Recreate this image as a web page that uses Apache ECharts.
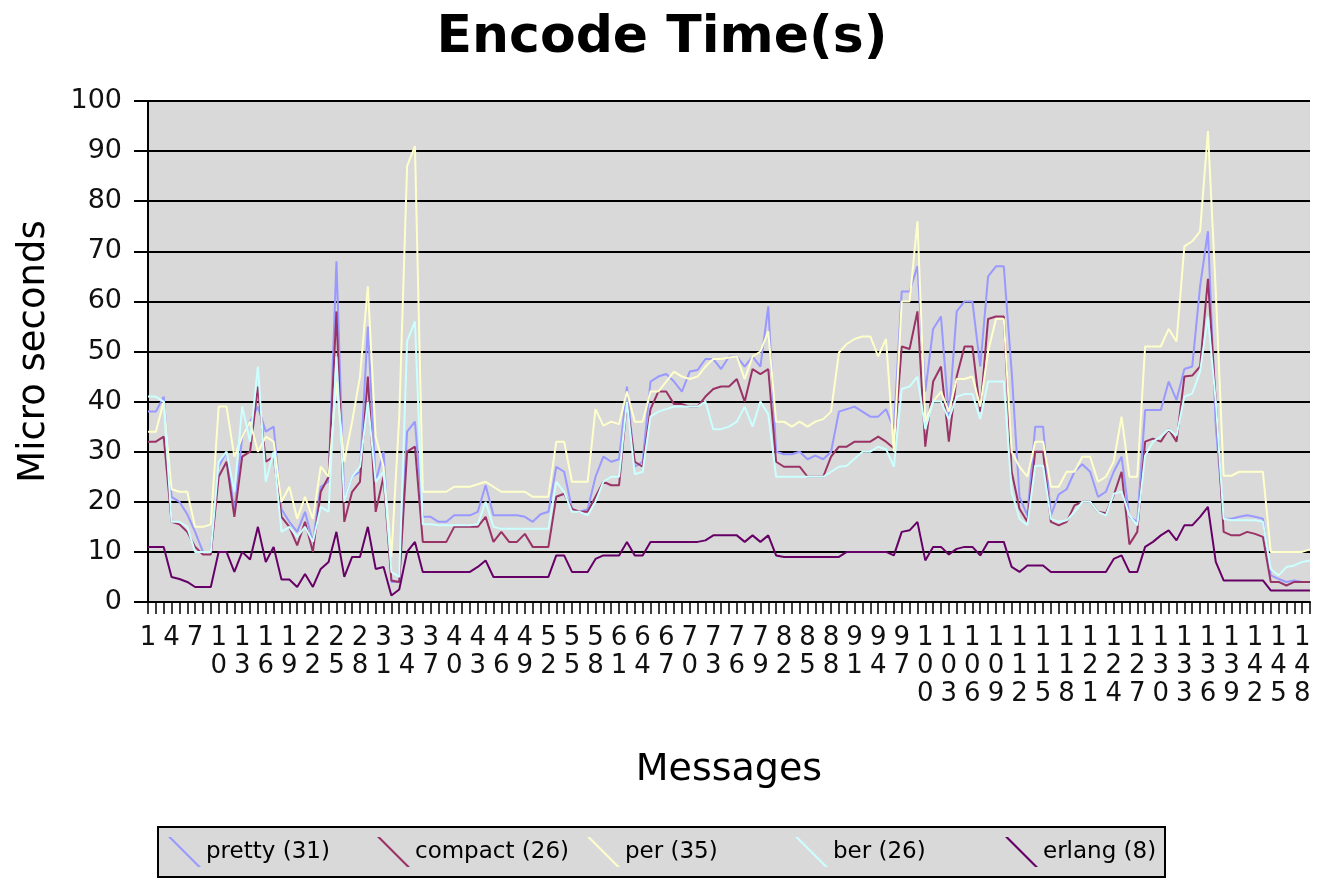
<!DOCTYPE html>
<html>
<head>
<meta charset="utf-8">
<script src="https://cdn.jsdelivr.net/npm/echarts@6/dist/echarts.min.js"></script>
<style>
html,body{margin:0;padding:0;background:#fff;}
#chart{width:1324px;height:880px;}
</style>
</head>
<body>
<div id="chart"></div>
<script>
const categories = [
1,2,3,4,5,6,7,8,9,10,11,12,13,14,15,16,17,18,19,20,
21,22,23,24,25,26,27,28,29,30,31,32,33,34,35,36,37,38,39,40,
41,42,43,44,45,46,47,48,49,50,51,52,53,54,55,56,57,58,59,60,
61,62,63,64,65,66,67,68,69,70,71,72,73,74,75,76,77,78,79,80,
81,82,83,84,85,86,87,88,89,90,91,92,93,94,95,96,97,98,99,100,
101,102,103,104,105,106,107,108,109,110,111,112,113,114,115,116,117,118,119,120,
121,122,123,124,125,126,127,128,129,130,131,132,133,134,135,136,137,138,139,140,
141,142,143,144,145,146,147,148,149
];

const seriesNames = ['pretty (31)', 'compact (26)', 'per (35)', 'ber (26)', 'erlang (8)'];

const pretty = [
38,38,41,21,20,17.5,14,10,10,27,
30,18,33,36,39,34,35,18.5,16,14,
18,12,23,24,68,20,25,26,55,24,
30,4,4,34,36,17,17,16,16,17.3,
17.3,17.3,18,23.3,17.3,17.3,17.3,17.3,17,16,
17.5,18,27,26,18.6,18,18.5,25,29,28,
28.5,43,27,28,44,45,45.5,44,42,46,
46.3,48.5,48.5,46.5,49,49,47,49,47,59,
30,29.5,29.5,30,28.5,29.2,28.5,30,38,38.5,
39,38,37,37,38.5,34.5,62,62,67,42,
54.5,57,37,58,60,60,47,65,67,67,
46,21,17.3,35,35,17.3,21.5,22.5,26,27.5,
26,21,22,26,29,17,16,38.3,38.3,38.3,
44,40.3,46.5,47,63,74,35,16.6,16.6,17,
17.3,17,16.6,5.3,4.6,4,4.3,4,4
];

const compact = [
32,32,33,16,15.5,14,11,9.5,9.5,25,
28,17,29,30,43,28,29,17,15,11.3,
16,10,22,25,58,16,22,24,45,18,
25,4.3,4,30,31,12,12,12,12,15,
15,15,15,17,12,14,12,12,13.6,11,
11,11,21,21.6,18.6,18,18,21,24,23.3,
23.3,40,28,27,38.5,42,42,39.5,39.5,39,
39,41,42.5,43,43,44.5,40,46.5,45.5,46.5,
28,27,27,27,25,25,25,29,31,31,
32,32,32,33,32,30.7,51,50.5,58,31,
44,47,32,45,51,51,38,56.5,57,57,
26,18.6,16,30,30,16,15.3,16,19.3,20,
20,18,17.7,21.3,26,11.5,14,32,32.6,32,
34.5,32,45,45.2,47,64.5,40,14,13.3,13.3,
14,13.6,13,4,4,3.3,4,4,4
];

const per = [
34,34,40,22.5,22,22,15,15,15.5,39,
39,29,33,36,30,33,32,20,23,16.6,
21,16.6,27,25,44,28,36,45,63,33,
27,9,37,87,91,22,22,22,22,23,
23,23,23.5,24,23,22,22,22,22,21,
21,21,32,32,24,24,24,38.5,35.2,36,
35.5,42,36,36,42,42,44,46,45,44.5,
45,47,48.5,48.5,48.8,49,44.5,49,50,54,
36,36,35,36,35,36,36.5,38,49.8,51.5,
52.5,53,53,49,52.5,30,60,60,76,36,
40,42,38,44.5,44.5,45,39,50,56.5,56.5,
30,27,25,32,32,23,23,26,26,29,
29,24,25,28,37,25,25,51,51,51,
54.5,52,71,72,74,94,62,25.2,25.2,26,
26,26,26,10,10,10,10,10,10.5
];

const ber = [
41,41,40,16,16,15,10,10,10,28,
30,22,39,32,47,24,30,14,15,13,
15,12,19,18,49,20,25,27,40,24,
26,6,5,52,56,15.5,15.5,15.3,15.3,15.3,
15.3,15.3,15.5,20,15,14.6,14.6,14.6,14.6,14.6,
14.6,14.6,24,22,18,18,17.3,20,24,25,
25,40,25.5,26,37,38,38.5,39,39,39,
39,40,34.5,34.5,35,36,39,35,40,37.5,
25,25,25,25,25,25,25,26,27,27.2,
28.6,30,30,31,30.5,27,42.5,43,45,34.5,
40,40,36.5,41,41.5,41.5,36.5,44,44,44,
22,16.6,15.3,27.2,27.2,16.6,16,16.3,18,20,
20,18,17.3,21.6,22,17.3,15.3,29.2,32,33,
34.5,33.2,41,41.6,46,57,40,16.6,16.3,16.3,
16.3,16.3,16,6.6,5.3,7,7.3,8,8.3
];

const erlang = [
11,11,11,5,4.6,4,3,3,3,10,
10,6,10,8.5,15,8,11,4.5,4.5,3,
5.6,3,6.6,8,14,5,9,9,15,6.6,
7,1.3,2.5,10,12,6,6,6,6,6,
6,6,7,8.3,5,5,5,5,5,5,
5,5,9.3,9.3,6,6,6,8.6,9.3,9.3,
9.3,12,9.3,9.3,12,12,12,12,12,12,
12,12.3,13.3,13.3,13.3,13.3,12,13.3,12,13.3,
9.3,9,9,9,9,9,9,9,9,10,
10,10,10,10,10,9.3,14,14.3,16,8.3,
11,11,9.5,10.6,11,11,9.3,12,12,12,
7,6,7.3,7.3,7.3,6,6,6,6,6,
6,6,6,8.6,9.3,6,6,11,12,13.3,
14.3,12.3,15.3,15.3,17,19,8,4.3,4.3,4.3,
4.3,4.3,4.3,2.3,2.3,2.3,2.3,2.3,2.3
];

const yTicks = { min: 0, max: 100, interval: 10 };
const colors = ['#9999ff', '#993366', '#ffffcc', '#ccffff', '#660066'];
const seriesData = [pretty, compact, per, ber, erlang];

const FONT = 'DejaVu Sans';
const chart = echarts.init(document.getElementById('chart'), null, { renderer: 'canvas' });

const legendLefts = [163, 372, 582, 790, 1000];
const legendIcon = 'path://M0,0 L3,0 L33,30 L30,30 Z';

const option = {
  animation: false,
  backgroundColor: '#ffffff',
  title: {
    text: 'Encode Time(s)',
    left: 'center',
    top: 7,
    textStyle: { fontFamily: FONT, fontSize: 52, fontWeight: 'bold', color: '#000' }
  },
  graphic: [{
    type: 'rect',
    z: 0,
    shape: { x: 158, y: 827, width: 1007, height: 50 },
    style: { fill: '#d9d9d9', stroke: '#000', lineWidth: 2 }
  }],
  legend: seriesNames.map((n, i) => ({
    data: [n],
    left: legendLefts[i],
    top: 832,
    z: 10,
    itemWidth: 33,
    itemHeight: 30,
    icon: legendIcon,
    itemStyle: { color: colors[i] },
    textStyle: { fontFamily: FONT, fontSize: 23, color: '#000' }
  })),
  grid: { left: 148, right: 14, top: 101, bottom: 278, containLabel: false,
          show: true, backgroundColor: '#d9d9d9', borderWidth: 0 },
  xAxis: {
    type: 'category',
    data: categories,
    boundaryGap: false,
    name: 'Messages',
    nameLocation: 'middle',
    nameGap: 149,
    nameTextStyle: { fontFamily: FONT, fontSize: 38, color: '#000' },
    axisLine: { lineStyle: { color: '#000', width: 2 } },
    axisTick: { show: true, interval: 0, length: 12, lineStyle: { color: '#000', width: 1.5 } },
    axisLabel: {
      interval: 2,
      margin: 22,
      fontFamily: FONT,
      fontSize: 26,
      lineHeight: 28,
      color: '#111',
      formatter: v => String(v).split('').join('\n')
    },
    splitLine: { show: false }
  },
  yAxis: {
    type: 'value',
    min: yTicks.min,
    max: yTicks.max,
    interval: yTicks.interval,
    name: 'Micro seconds',
    nameLocation: 'middle',
    nameGap: 95,
    nameTextStyle: { fontFamily: FONT, fontSize: 37, color: '#000' },
    axisLine: { show: true, lineStyle: { color: '#000', width: 2 } },
    axisTick: { show: true, length: 14, lineStyle: { color: '#000', width: 2 } },
    axisLabel: { margin: 26, fontFamily: FONT, fontSize: 27, color: '#111' },
    splitLine: { show: true, lineStyle: { color: '#000', width: 2 } }
  },
  series: seriesNames.map((n, i) => ({
    name: n,
    type: 'line',
    data: seriesData[i],
    showSymbol: false,
    symbol: 'none',
    lineStyle: { color: colors[i], width: 2 },
    itemStyle: { color: colors[i] },
    emphasis: { disabled: true },
    z: 2 + i
  }))
};

chart.setOption(option);
</script>
</body>
</html>
